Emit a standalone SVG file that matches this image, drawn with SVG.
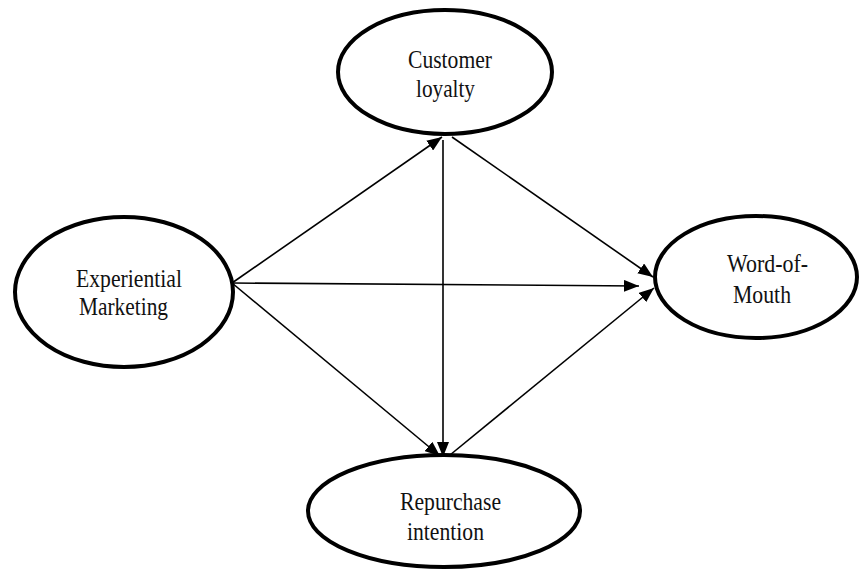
<svg xmlns="http://www.w3.org/2000/svg" width="859" height="571" viewBox="0 0 859 571">
<style>
.node ellipse{fill:#fff;stroke:#000;stroke-width:4}
.node text{font-family:"Liberation Serif","Times New Roman",serif;font-size:26px;fill:#111}
.conn line{stroke:#000;stroke-width:1.6;marker-end:url(#arr)}
</style>
<defs>
<marker id="arr" markerUnits="userSpaceOnUse" markerWidth="16" markerHeight="12" refX="15" refY="6" orient="auto">
<path d="M0,0 L15,6 L0,12 Z" fill="#000"/>
</marker>
</defs>
<rect width="859" height="571" fill="#fff"/>
<g id="connectors" class="conn">
<line x1="232" y1="283" x2="442" y2="137"/>
<line x1="232" y1="283" x2="639" y2="286"/>
<line x1="232" y1="283" x2="440" y2="456"/>
<line x1="443" y1="140" x2="443" y2="457"/>
<line x1="452" y1="137" x2="653" y2="277"/>
<line x1="450" y1="455" x2="654" y2="288"/>
</g>
<g id="customer-loyalty" class="node">
<ellipse cx="445" cy="72" rx="107" ry="62"/>
<text x="408" y="68" textLength="84" lengthAdjust="spacingAndGlyphs">Customer</text>
<text x="416" y="97" textLength="59" lengthAdjust="spacingAndGlyphs">loyalty</text>
</g>
<g id="experiential-marketing" class="node">
<ellipse cx="124" cy="292" rx="109" ry="75"/>
<text x="76" y="287" textLength="106" lengthAdjust="spacingAndGlyphs">Experiential</text>
<text x="79" y="315" textLength="89" lengthAdjust="spacingAndGlyphs">Marketing</text>
</g>
<g id="word-of-mouth" class="node">
<ellipse cx="756" cy="277" rx="101" ry="61"/>
<text x="727" y="272" textLength="81" lengthAdjust="spacingAndGlyphs">Word-of-</text>
<text x="733" y="303" textLength="58" lengthAdjust="spacingAndGlyphs">Mouth</text>
</g>
<g id="repurchase-intention" class="node">
<ellipse cx="444" cy="511" rx="136" ry="56"/>
<text x="400" y="510" textLength="101" lengthAdjust="spacingAndGlyphs">Repurchase</text>
<text x="407" y="540" textLength="77" lengthAdjust="spacingAndGlyphs">intention</text>
</g>
</svg>
